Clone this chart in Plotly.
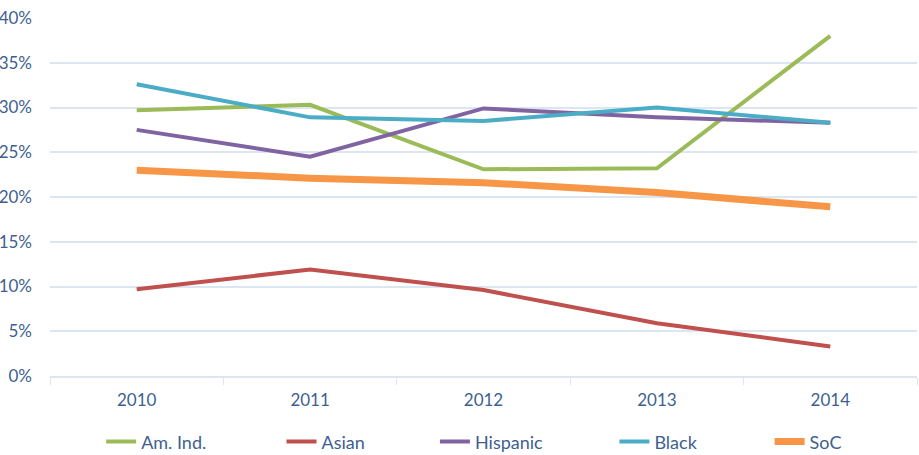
import plotly.graph_objects as go

years = ["2010", "2011", "2012", "2013", "2014"]
am_ind = [0.297, 0.303, 0.231, 0.232, 0.380]
asian = [0.097, 0.119, 0.096, 0.059, 0.033]
hispanic = [0.275, 0.245, 0.299, 0.289, 0.283]
black = [0.326, 0.289, 0.285, 0.300, 0.283]
soc = [0.230, 0.221, 0.216, 0.205, 0.189]

names = ["Am. Ind.", "Asian", "Hispanic", "Black", "SoC"]
values = [am_ind, asian, hispanic, black, soc]
colors = ["#9BBB59", "#C0504D", "#8064A2", "#4BACC6", "#F79646"]
widths = [4, 4, 4, 4, 7]
legend_x = [0.059, 0.267, 0.444, 0.651, 0.830]

text_color = "#3E5F8F"
grid_color = "#DCE6F2"

fig = go.Figure()
layout_legends = {}
for i, (name, vals, color, w, lx) in enumerate(zip(names, values, colors, widths, legend_x)):
    key = "legend" if i == 0 else f"legend{i + 1}"
    fig.add_trace(go.Scatter(x=years, y=vals, name=name, mode="lines",
                             line=dict(color=color, width=w), legend=key))
    layout_legends[key] = dict(orientation="h", x=lx, xanchor="left", y=-0.184,
                               yanchor="middle", bgcolor="rgba(0,0,0,0)",
                               font=dict(size=18, color=text_color))

fig.update_layout(
    width=919, height=475,
    margin=dict(l=50, r=2, t=18, b=99, autoexpand=False),
    paper_bgcolor="white", plot_bgcolor="white",
    font=dict(family="Lato, Open Sans, sans-serif", size=17, color=text_color),
    showlegend=True,
    **layout_legends,
)
fig.update_xaxes(type="category", range=[-0.5, 4.5], showgrid=False, showline=True,
                 linecolor=grid_color, linewidth=1.5, ticks="outside",
                 tickson="boundaries", ticklen=7, tickcolor=grid_color,
                 tickfont=dict(size=17, color=text_color), ticklabelstandoff=8,
                 zeroline=False)
fig.update_yaxes(range=[0, 0.4], dtick=0.05, tickformat=".0%", showgrid=True,
                 gridcolor=grid_color, gridwidth=1.5, showline=False, zeroline=False,
                 ticks="", ticklabelstandoff=17,
                 tickfont=dict(size=17, color=text_color))

fig.write_html("out.html", config={"displayModeBar": False},
               post_script="document.body.style.margin='0';document.body.style.overflow='hidden';")
